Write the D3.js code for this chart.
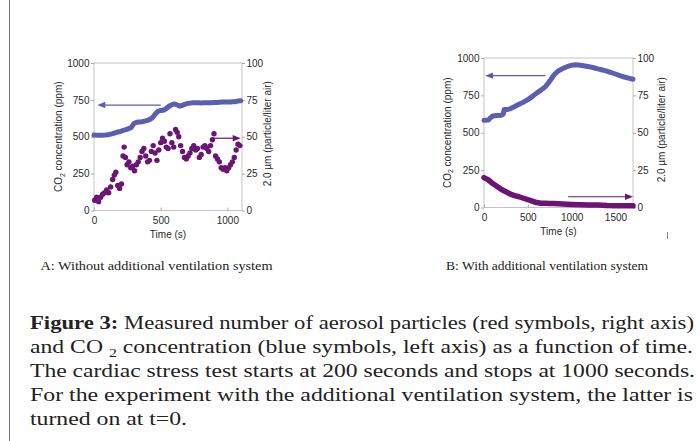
<!DOCTYPE html>
<html>
<head>
<meta charset="utf-8">
<script src="https://cdn.jsdelivr.net/npm/d3@7"></script>
<style>
  body { margin: 0; background: #fff; }
  svg { display: block; }
</style>
</head>
<body>
<script>
// tick values
const co2Ticks = [0, 250, 500, 750, 1000];
const partTicks = [0, 25, 50, 75, 100];
const timeTicksA = [0, 500, 1000];
const timeTicksB = [0, 500, 1000, 1500];

// panel A: CO2 (ppm, left axis)
const co2A_t = [0, 20, 40, 60, 80, 100, 120, 140, 160, 180, 200, 220, 240, 260, 280, 300, 320, 340, 360, 380,
  400, 420, 440, 460, 480, 500, 520, 540, 560, 580, 600, 620, 640, 660, 680, 700, 720, 740, 760, 780,
  800, 820, 840, 860, 880, 900, 920, 940, 960, 980, 1000, 1020, 1040, 1060, 1080, 1100];
const co2A_v = [512, 511, 511, 510, 511, 513, 517, 521, 527, 532, 537, 543, 548, 555, 563, 590, 598, 600, 602, 606,
  610, 618, 630, 655, 672, 678, 680, 690, 705, 715, 722, 718, 708, 712, 720, 725, 728, 730, 731, 730,
  729, 730, 731, 730, 731, 732, 733, 734, 735, 735, 736, 736, 737, 738, 742, 744];

// panel A: particles (per liter air, right axis)
const partA_t = [5, 20, 35, 50, 65, 80, 95, 110, 125, 140, 152, 164, 178, 192, 206, 218, 226, 236, 248, 262,
  276, 290, 304, 318, 332, 346, 360, 374, 388, 402, 416, 430, 444, 458, 472, 486, 500, 514, 528, 542,
  556, 570, 584, 598, 612, 624, 636, 650, 664, 678, 692, 706, 720, 734, 748, 762, 776, 790, 804, 818,
  832, 846, 860, 874, 888, 900, 912, 926, 940, 954, 968, 982, 996, 1010, 1024, 1038, 1052, 1066, 1080, 1094];
const partA_v = [7, 9, 6, 9, 11, 12, 14, 12, 16, 21, 24, 26, 17, 15, 18, 37, 43, 36, 31, 33,
  29, 30, 27, 31, 33, 36, 40, 42, 37, 33, 34, 40, 44, 39, 34, 41, 46, 49, 47, 43,
  42, 52, 46, 43, 55, 53, 50, 44, 40, 36, 35, 37, 39, 42, 44, 41, 42, 36, 38, 43,
  44, 42, 40, 44, 48, 52, 37, 35, 33, 29, 28, 29, 27, 29, 31, 33, 36, 41, 45, 44];

// panel B: CO2
const co2B_t = [0, 50, 75, 100, 150, 200, 220, 230, 260, 300, 350, 400, 450, 500, 550, 600, 650, 700, 750, 800,
  850, 900, 950, 1000, 1050, 1100, 1150, 1200, 1250, 1300, 1350, 1400, 1450, 1500, 1550, 1600, 1650, 1700];
const co2B_v = [583, 585, 600, 612, 615, 617, 625, 655, 655, 660, 675, 690, 705, 722, 742, 765, 785, 808, 845, 888,
  915, 930, 943, 952, 955, 952, 947, 942, 935, 927, 920, 912, 903, 893, 882, 873, 865, 858];

// panel B: particles
const partB_t = [0, 50, 100, 150, 200, 250, 300, 350, 400, 450, 500, 550, 600, 650, 700, 750, 800, 900, 1000,
  1100, 1200, 1300, 1400, 1500, 1600, 1700];
const partB_v = [20, 18.5, 16, 14, 12, 10.5, 9, 8, 7.2, 6.2, 5.2, 4.3, 3.3, 2.8, 2.9, 2.7, 2.6, 2.3, 2,
  1.8, 1.7, 1.6, 1.3, 1.2, 1.2, 1.1];

// arrows: [t0, t1, value, axis]
const arrowsA = [[500, 25, 715, "left"], [890, 1100, 49, "right"]];
const arrowsB = [[700, 12, 882, "left"], [960, 1700, 7.2, "right"]];

const captionA = "A: Without additional ventilation system";
const captionB = "B: With additional ventilation system";

const blue = "#5b5fb2";
const purple = "#6c1475";
const sans = "'Liberation Sans', Arial, sans-serif";
const serif = "'Liberation Serif', 'Times New Roman', serif";

const svg = d3.select("body").append("svg")
  .attr("width", 700)
  .attr("height", 441);

function drawPanel(box, xMax, xTicks, co2, part, arrows, scatter) {
  const x = d3.scaleLinear().domain([0, xMax]).range([box.left, box.right]);
  const yL = d3.scaleLinear().domain([0, 1000]).range([box.bottom, box.top]);
  const yR = d3.scaleLinear().domain([0, 100]).range([box.bottom, box.top]);

  const g = svg.append("g");

  g.append("rect")
    .attr("x", box.left).attr("y", box.top)
    .attr("width", box.right - box.left).attr("height", box.bottom - box.top)
    .attr("fill", "none").attr("stroke", "#c4c4c4");

  const styleAxis = sel => {
    sel.select(".domain").remove();
    sel.selectAll("line").attr("stroke", "#aaa");
    sel.selectAll("text").attr("fill", "#2a2a2a").style("font-family", sans).style("font-size", "10px");
  };
  const fmt = d3.format("d");

  g.append("g").attr("transform", `translate(${box.left},0)`)
    .call(d3.axisLeft(yL).tickValues(co2Ticks).tickFormat(fmt).tickSize(3).tickPadding(1.5))
    .call(styleAxis);
  g.append("g").attr("transform", `translate(${box.right},0)`)
    .call(d3.axisRight(yR).tickValues(partTicks).tickFormat(fmt).tickSize(3).tickPadding(1.5))
    .call(styleAxis);
  g.append("g").attr("transform", `translate(0,${box.bottom})`)
    .call(d3.axisBottom(x).tickValues(xTicks).tickFormat(fmt).tickSize(-3).tickPadding(6))
    .call(styleAxis);

  // CO2 trace
  g.append("path")
    .datum(co2)
    .attr("d", d3.line().x(d => x(d[0])).y(d => yL(d[1])))
    .attr("fill", "none").attr("stroke", blue)
    .attr("stroke-width", 5).attr("stroke-linejoin", "round").attr("stroke-linecap", "round");

  // particle trace
  if (scatter) {
    g.append("g").selectAll("circle")
      .data(part).join("circle")
      .attr("cx", d => x(d[0])).attr("cy", d => yR(d[1]))
      .attr("r", 2.7).attr("fill", purple);
  } else {
    g.append("path")
      .datum(part)
      .attr("d", d3.line().x(d => x(d[0])).y(d => yR(d[1])))
      .attr("fill", "none").attr("stroke", purple)
      .attr("stroke-width", 5.5).attr("stroke-linejoin", "round").attr("stroke-linecap", "round");
  }

  // arrows
  arrows.forEach(([t0, t1, v, axis]) => {
    const y = axis === "left" ? yL(v) : yR(v);
    const col = axis === "left" ? blue : purple;
    const x0 = x(t0), x1 = x(t1);
    const dir = Math.sign(x1 - x0);
    g.append("line")
      .attr("x1", x0).attr("x2", x1 - dir * 6).attr("y1", y).attr("y2", y)
      .attr("stroke", col).attr("stroke-width", 1.2);
    g.append("path")
      .attr("d", `M${x1},${y}L${x1 - dir * 8},${y - 3.2}L${x1 - dir * 8},${y + 3.2}Z`)
      .attr("fill", col);
  });

  // axis titles
  const midY = (box.top + box.bottom) / 2;
  const lt = g.append("text")
    .attr("transform", `translate(${box.left - box.leftTitle},${midY}) rotate(-90)`)
    .attr("text-anchor", "middle").attr("dy", "0.35em")
    .style("font-family", sans).style("font-size", "10px").attr("fill", "#2a2a2a");
  lt.append("tspan").text("CO");
  lt.append("tspan").text("2").style("font-size", "7px").attr("dy", 2.5);
  lt.append("tspan").text(" concentration (ppm)").attr("dy", -2.5);

  g.append("text")
    .attr("transform", `translate(${box.right + box.rightTitle},${midY - 3}) rotate(-90)`)
    .attr("text-anchor", "middle").attr("dy", "0.35em")
    .style("font-family", sans).style("font-size", "10px").attr("fill", "#2a2a2a")
    .text("2.0 \u00b5m (particle/liter air)");

  g.append("text")
    .attr("x", (box.left + box.right) / 2).attr("y", box.bottom + 27)
    .attr("text-anchor", "middle")
    .style("font-family", sans).style("font-size", "10px").attr("fill", "#2a2a2a")
    .text("Time (s)");
}

drawPanel({ left: 94, right: 242, top: 63, bottom: 210.5, leftTitle: 35.5, rightTitle: 25 }, 1110, timeTicksA,
  co2A_t.map((t, i) => [t, co2A_v[i]]), partA_t.map((t, i) => [t, partA_v[i]]), arrowsA, true);
drawPanel({ left: 484, right: 633, top: 58, bottom: 207.5, leftTitle: 37, rightTitle: 28.5 }, 1700, timeTicksB,
  co2B_t.map((t, i) => [t, co2B_v[i]]), partB_t.map((t, i) => [t, partB_v[i]]), arrowsB, false);

// page border line and small mark
svg.append("line").attr("x1", 9.5).attr("x2", 9.5).attr("y1", 0).attr("y2", 441)
  .attr("stroke", "#777").attr("stroke-width", 1);
svg.append("line").attr("x1", 667.5).attr("x2", 667.5).attr("y1", 232).attr("y2", 239)
  .attr("stroke", "#888").attr("stroke-width", 1);

// panel captions
svg.append("text").attr("x", 40.5).attr("y", 270)
  .attr("textLength", 232).attr("lengthAdjust", "spacingAndGlyphs")
  .style("font-family", serif).style("font-size", "13px").attr("fill", "#222")
  .text(captionA);
svg.append("text").attr("x", 446).attr("y", 270)
  .attr("textLength", 202).attr("lengthAdjust", "spacingAndGlyphs")
  .style("font-family", serif).style("font-size", "13px").attr("fill", "#222")
  .text(captionB);

// figure caption
const capLines = [
  [["Figure 3:", true], [" Measured number of aerosol particles (red symbols, right axis)", false]],
  [["and CO ", false], ["2", "sub"], [" concentration (blue symbols, left axis) as a function of time.", false]],
  [["The cardiac stress test starts at 200 seconds and stops at 1000 seconds.", false]],
  [["For the experiment with the additional ventilation system, the latter is", false]],
  [["turned on at t=0.", false]]
];
const capWidths = [664, 663, 665, 663, 157];
const capY = [329, 353, 377, 401, 424.5];

capLines.forEach((parts, i) => {
  const t = svg.append("text")
    .attr("x", 30).attr("y", capY[i])
    .attr("textLength", capWidths[i]).attr("lengthAdjust", "spacingAndGlyphs")
    .style("font-family", serif).style("font-size", "19.5px").attr("fill", "#222");
  parts.forEach(([s, kind]) => {
    const sp = t.append("tspan").text(s);
    if (kind === true) sp.style("font-weight", "bold");
    if (kind === "sub") sp.style("font-size", "13px").attr("dy", 4);
    if (s.startsWith(" concentration")) sp.attr("dy", -4);
  });
});
</script>
</body>
</html>
